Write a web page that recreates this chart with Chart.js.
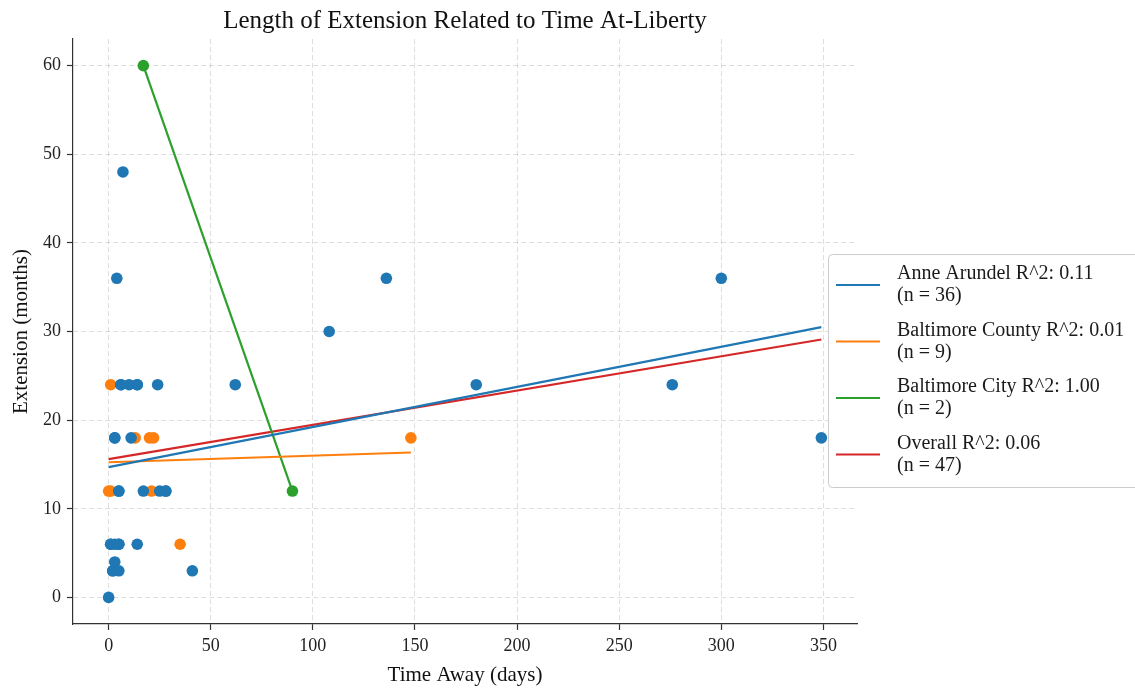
<!DOCTYPE html>
<html>
<head>
<meta charset="utf-8">
<script src="https://cdn.jsdelivr.net/npm/chart.js@4"></script>
<style>
  html, body { margin: 0; padding: 0; background: #fff; }
  #wrap { width: 1135px; height: 690px; position: relative; }
</style>
</head>
<body>
<div id="wrap"><canvas id="chart"></canvas></div>
<script>
// ---- data ----
const annePoints = [
  [6, 24], [10, 24], [14, 24], [24, 24], [62, 24], [180, 24], [276, 24], [6, 24], [14, 24],
  [3, 18], [11, 18], [349, 18], [3, 18],
  [5, 12], [17, 12], [25, 12], [28, 12], [5, 12], [28, 12],
  [1, 6], [3, 6], [5, 6], [14, 6], [1, 6], [5, 6],
  [3, 4],
  [2, 3], [5, 3], [41, 3], [2, 3],
  [0, 0],
  [7, 48],
  [4, 36], [136, 36], [300, 36],
  [108, 30]
];
const countyPoints = [
  [1, 24],
  [13, 18], [20, 18], [22, 18], [148, 18],
  [0, 12], [1, 12], [21, 12],
  [35, 6]
];
const cityPoints = [[17, 60], [90, 12]];

// fitted lines: [x start, y start, x end, y end]
const anneFit   = [0, 14.7, 349, 30.5];
const countyFit = [0, 15.25, 148, 16.35];
const cityFit   = [17, 60, 90, 12];
const overallFit = [0, 15.6, 349, 29.1];

const groupNames = ['Anne Arundel', 'Baltimore County', 'Baltimore City', 'Overall'];
const rSquared   = ['0.11', '0.01', '1.00', '0.06'];
const groupCounts = [36, 9, 2, 47];

const xTicks = [0, 50, 100, 150, 200, 250, 300, 350];
const yTicks = [0, 10, 20, 30, 40, 50, 60];

const BLUE   = '#1f77b4';
const ORANGE = '#ff7f0e';
const GREEN  = '#2ca02c';
const RED    = '#d62728';
const COLORS = [BLUE, ORANGE, GREEN, RED];
const FONT = '"Liberation Serif", "DejaVu Serif", serif';
const DARK = '#333333';

const toXY = arr => arr.map(p => ({ x: p[0], y: p[1] }));
const fitXY = f => [{ x: f[0], y: f[1] }, { x: f[2], y: f[3] }];

function pointSet(data, color) {
  return {
    data: toXY(data),
    backgroundColor: color,
    borderWidth: 0,
    pointRadius: 5.8,
    order: 2
  };
}

function lineSet(fit, color) {
  return {
    data: fitXY(fit),
    showLine: true,
    borderColor: color,
    borderWidth: 2.2,
    pointRadius: 0,
    order: 1
  };
}

// legend drawn by hand, it sits half outside the canvas like the original
const legendBox = {
  id: 'legendBox',
  afterDraw(chart) {
    const ctx = chart.ctx;
    const left = 828, top = 254, w = 320, h = 233;
    ctx.save();
    ctx.fillStyle = 'rgba(255,255,255,0.9)';
    ctx.strokeStyle = '#cccccc';
    ctx.lineWidth = 1;
    ctx.beginPath();
    if (ctx.roundRect) ctx.roundRect(left + 0.5, top + 0.5, w, h, 4);
    else ctx.rect(left + 0.5, top + 0.5, w, h);
    ctx.fill();
    ctx.stroke();

    ctx.font = '20px ' + FONT;
    ctx.fillStyle = '#1a1a1a';
    ctx.textBaseline = 'middle';
    ctx.textAlign = 'left';
    groupNames.forEach((name, i) => {
      const cy = 285 + i * 56.5;
      ctx.strokeStyle = COLORS[i];
      ctx.lineWidth = 2.2;
      ctx.beginPath();
      ctx.moveTo(836, cy);
      ctx.lineTo(880, cy);
      ctx.stroke();
      ctx.fillText(name + ' R^2: ' + rSquared[i], 897, cy - 11);
      ctx.fillText('(n = ' + groupCounts[i] + ')', 897, cy + 11);
    });
    ctx.restore();
  }
};

new Chart(document.getElementById('chart'), {
  type: 'scatter',
  data: {
    datasets: [
      pointSet(annePoints, BLUE),
      pointSet(countyPoints, ORANGE),
      pointSet(cityPoints, GREEN),
      lineSet(anneFit, BLUE),
      lineSet(countyFit, ORANGE),
      lineSet(cityFit, GREEN),
      lineSet(overallFit, RED)
    ]
  },
  options: {
    responsive: true,
    maintainAspectRatio: false,
    animation: false,
    layout: { padding: { left: 0, right: 278, top: 0, bottom: 0 } },
    plugins: {
      legend: { display: false },
      tooltip: { enabled: false },
      title: {
        display: true,
        fullSize: false,
        text: 'Length of Extension Related to Time At-Liberty',
        color: '#111',
        font: { family: FONT, size: 25, weight: 'normal' },
        padding: { top: 6, bottom: 3 }
      }
    },
    scales: {
      x: {
        type: 'linear',
        min: -17.45,
        max: 366.45,
        afterBuildTicks: s => { s.ticks = xTicks.map(v => ({ value: v })); },
        afterFit: s => { s.height = 66; },
        grid: { color: 'rgba(0,0,0,0.13)', lineWidth: 1, tickLength: 6, tickColor: DARK, tickWidth: 1.2 },
        border: { display: true, color: DARK, width: 1.2, dash: [5, 3] },
        ticks: { color: '#222', padding: 5, font: { family: FONT, size: 18 }, maxRotation: 0 },
        title: {
          display: true,
          text: 'Time Away (days)',
          color: '#111',
          font: { family: FONT, size: 21 },
          padding: { top: 0, bottom: 2 }
        }
      },
      y: {
        type: 'linear',
        min: -3,
        max: 63,
        afterBuildTicks: s => { s.ticks = yTicks.map(v => ({ value: v })); },
        afterFit: s => { s.width = 73; },
        grid: { color: 'rgba(0,0,0,0.13)', lineWidth: 1, tickLength: 6, tickColor: DARK, tickWidth: 1.2 },
        border: { display: true, color: DARK, width: 1.2, dash: [5, 3] },
        ticks: { color: '#222', padding: 6, font: { family: FONT, size: 18 } },
        title: {
          display: true,
          text: 'Extension (months)',
          color: '#111',
          font: { family: FONT, size: 21 },
          padding: { top: 9, bottom: 0 }
        }
      }
    }
  },
  plugins: [legendBox]
});
</script>
</body>
</html>
